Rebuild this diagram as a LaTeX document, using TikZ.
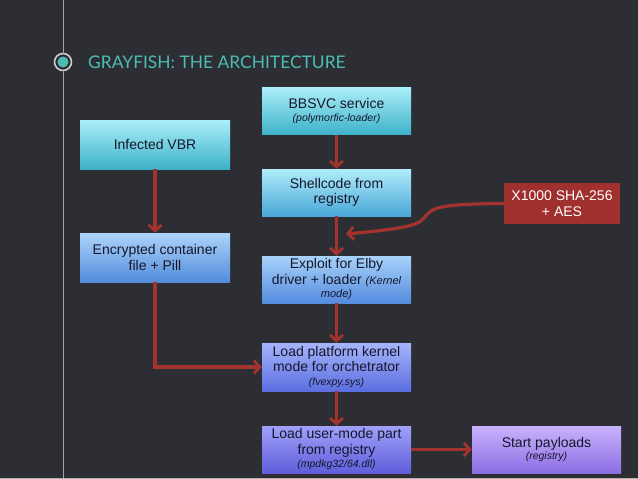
\documentclass[tikz,border=0pt]{standalone}
\usepackage{fontspec}
\setmainfont{Liberation Sans}
\newfontfamily\titlefont{Lato}
\usetikzlibrary{arrows.meta}
\definecolor{bg}{HTML}{2C2E34}
\definecolor{arr}{HTML}{A3332E}
\definecolor{txt}{HTML}{15172A}
\definecolor{teal}{HTML}{4DBDB4}
\tikzset{
  x=1pt,y=-1pt,
  box/.style={draw=none,rectangle,inner sep=0pt,text=txt,align=center,
    font=\fontsize{14}{15.5}\selectfont,minimum width=149pt},
  link/.style={draw=arr,line width=3.2pt,-{Straight Barb[length=6pt,width=13pt,line width=2.8pt]}},
}
\newcommand{\smit}[1]{{\fontsize{10.5}{12}\selectfont\itshape #1}}
\begin{document}
\begin{tikzpicture}
\useasboundingbox (0,0) rectangle (638,479);
\fill[bg] (0,0) rectangle (638,479);
\draw[gray!70,line width=0.8pt] (63,0) -- (63,479);
\draw[gray!60,line width=1pt] (0,478) -- (638,478);
\fill[bg] (63,62) circle (9.5);
\draw[gray!40,line width=1.6pt] (63,62) circle (8.5);
\fill[teal] (63,62) circle (5.5);
\node[anchor=west,text=teal,font=\titlefont\fontsize{17.4}{19}\selectfont,inner sep=0pt] (title) at (88,62) {GRAYFISH: THE ARCHITECTURE};

% boxes
\node[box,minimum height=47pt,top color={rgb,255:red,170;green,238;blue,250},bottom color={rgb,255:red,62;green,178;blue,200}] (bbsvc) at (336.5,111) {BBSVC service\\[-2pt]\smit{(polymorfic-loader)}};
\node[box,minimum height=47pt,top color={rgb,255:red,175;green,236;blue,250},bottom color={rgb,255:red,74;green,168;blue,216}] (shell) at (336.5,192.5) {Shellcode from\\registry};
\node[box,minimum height=47pt,top color={rgb,255:red,168;green,210;blue,250},bottom color={rgb,255:red,84;green,140;blue,222}] (exploit) at (336.5,279.5) {Exploit for Elby\\driver + loader \smit{\fontsize{11}{12}\selectfont(Kernel}\\[-2pt]\smit{\fontsize{11}{12}\selectfont mode)}};
\node[box,minimum height=48pt,top color={rgb,255:red,165;green,180;blue,250},bottom color={rgb,255:red,92;green,110;blue,224}] (platform) at (336.5,367) {Load platform kernel\\mode for orchetrator\\[-2pt]\smit{(fvexpy.sys)}};
\node[box,minimum height=47pt,top color={rgb,255:red,160;green,160;blue,250},bottom color={rgb,255:red,96;green,94;blue,218}] (user) at (336.5,449.5) {Load user-mode part\\from registry\\[-2pt]\smit{(mpdkg32/64.dll)}};
\node[box,minimum height=47pt,top color={rgb,255:red,200;green,178;blue,252},bottom color={rgb,255:red,140;green,110;blue,228}] (start) at (546.5,449.5) {Start payloads\\[-3pt]\smit{(registry)}};
\node[box,minimum width=116pt,minimum height=41pt,fill={rgb,255:red,160;green,48;blue,46},text=white] (aes) at (562,203.5) {X1000 SHA-256\\+ AES};
\node[box,minimum width=150pt,minimum height=49pt,top color={rgb,255:red,170;green,238;blue,250},bottom color={rgb,255:red,62;green,178;blue,200}] (vbr) at (155,144.5) {Infected VBR};
\node[box,minimum width=150pt,minimum height=49pt,top color={rgb,255:red,172;green,212;blue,250},bottom color={rgb,255:red,84;green,140;blue,220}] (enc) at (155,257.5) {Encrypted container\\file + Pill};

% connectors
\draw[link] (bbsvc) -- (shell);
\draw[link] (shell) -- (exploit);
\draw[link] (exploit) -- (platform);
\draw[link] (platform) -- (user);
\draw[link] (user) -- (start);
\draw[link] (vbr) -- (enc);
\draw[link] (enc.south) |- (platform.west);
\coordinate (tip) at (346,234);
\draw[link] (aes.west) .. controls (440,204) and (432,207) .. (424,218) .. controls (418,226) and (400,229) .. (tip);
\end{tikzpicture}
\end{document}
